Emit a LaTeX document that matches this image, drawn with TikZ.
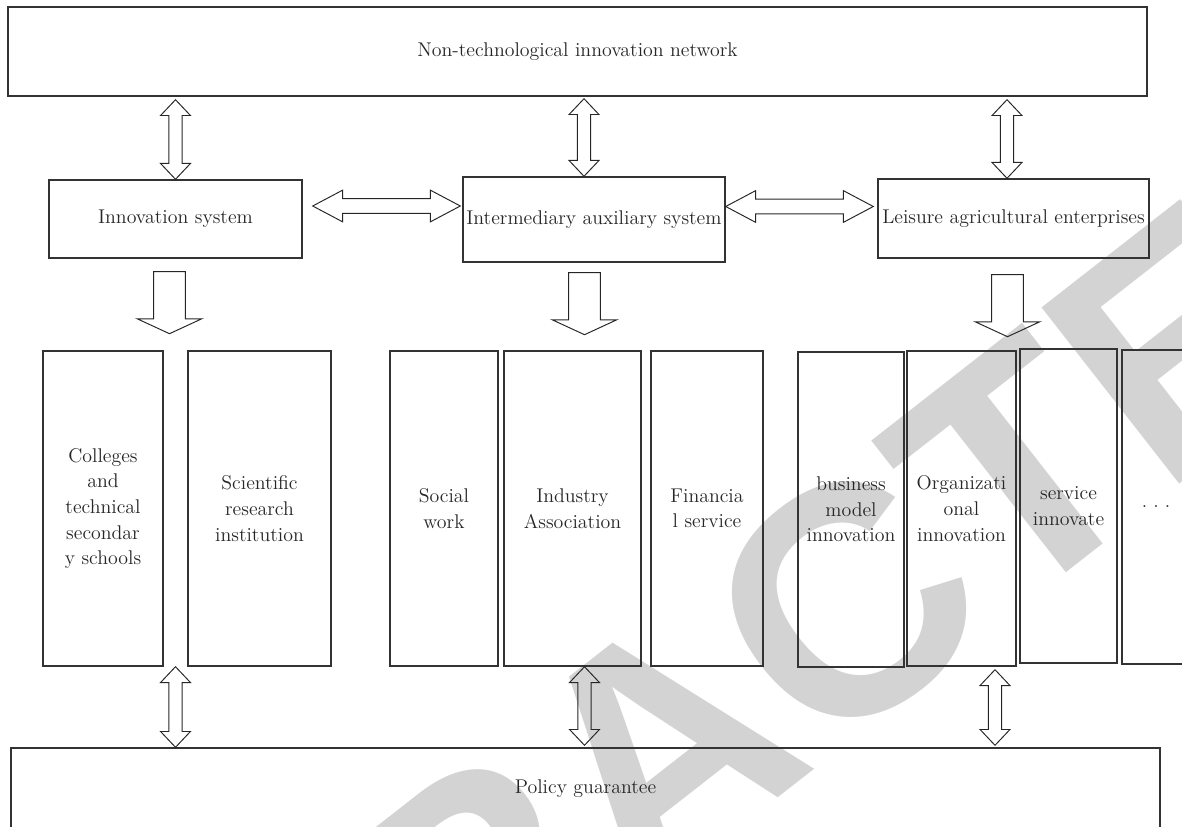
\documentclass[tikz,border=0pt]{standalone}
\usepackage{fontspec}
\usepackage{tikz}
\usetikzlibrary{calc}
\newfontfamily\stampfont{Liberation Sans}
\definecolor{stampgray}{HTML}{D3D3D3}
\definecolor{linegray}{HTML}{333333}

% vertical double block arrow: #1 upper tip, #2 lower tip
\newcommand{\dblvert}[2]{%
  \draw[blockarrow] let \p1=(#1), \p2=(#2) in
    (\x1,\y1) -- (\x1+8.5pt,\y1-9pt) -- (\x1+3.8pt,\y1-9pt) -- (\x1+3.8pt,\y2+9pt)
    -- (\x1+8.5pt,\y2+9pt) -- (\x1,\y2) -- (\x1-8.5pt,\y2+9pt) -- (\x1-3.8pt,\y2+9pt)
    -- (\x1-3.8pt,\y1-9pt) -- (\x1-8.5pt,\y1-9pt) -- cycle;}
% horizontal double block arrow: #1 left tip, #2 right tip
\newcommand{\dblhorz}[2]{%
  \draw[blockarrow] let \p1=(#1), \p2=(#2) in
    (\x1,\y1) -- (\x1+17pt,\y1+9pt) -- (\x1+17pt,\y1+4.25pt) -- (\x2-17pt,\y1+4.25pt)
    -- (\x2-17pt,\y1+9pt) -- (\x2,\y1) -- (\x2-17pt,\y1-9pt) -- (\x2-17pt,\y1-4.25pt)
    -- (\x1+17pt,\y1-4.25pt) -- (\x1+17pt,\y1-9pt) -- cycle;}
% single block arrow pointing down: #1 top of shaft, #2 tip
\newcommand{\blockdown}[2]{%
  \draw[blockarrow] let \p1=(#1), \p2=(#2) in
    (\x1-9pt,\y1) -- (\x1+9pt,\y1) -- (\x1+9pt,\y2+8.5pt) -- (\x1+18.4pt,\y2+8.5pt)
    -- (\x1,\y2) -- (\x1-18.4pt,\y2+8.5pt) -- (\x1-9pt,\y2+8.5pt) -- cycle;}

\begin{document}
\begin{tikzpicture}[x=0.02cm, y=-0.02cm,
  every node/.style={font=\fontsize{11.3}{14.6}\selectfont, align=center, text=black!85},
  box/.style 2 args={draw=linegray, line width=0.8pt, inner sep=0pt,
    minimum width=(#1)*0.02cm, minimum height=(#2)*0.02cm},
  blockarrow/.style={draw=black!85, line width=0.55pt, line join=miter}]

\useasboundingbox (0,0) rectangle (1182,827);
\clip (0,0) rectangle (1182,827);

% watermark, under everything
\node[rotate=38, text=stampgray, inner sep=0pt,
  font=\stampfont\bfseries\fontsize{185}{185}\selectfont]
  (stamp) at (660,748) {RETRACTED};

% the two bands
\node[box={1139}{89}] (net) at (577.5,51.5) {Non-technological innovation network};
\node[box={1149}{82}] (pol) at (585.5,789) {Policy guarantee};

% middle row
\node[box={253}{78}] (inn) at (175.5,219) {Innovation system};
\node[box={262}{85}] (ias) at (594,219.5) {Intermediary auxiliary system};
\node[box={271}{79}] (lae) at (1013.5,218.5) {Leisure agricultural enterprises};

% lower row of tall boxes
\foreach \id/\xl/\xr/\yt/\yb/\txt in {
    cts/43/163/351/666/{Colleges\\and\\technical\\secondar\\y schools},
    sri/188/331/351/666/{Scientific\\research\\institution},
    sw/390/498/351/666/{Social\\work},
    ia/504/641/351/666/{Industry\\Association},
    fs/651/763/351/666/{Financia\\l service},
    bmi/798/904/352/667/{business\\model\\innovation},
    oi/907/1016/351/666/{Organizati\\onal\\innovation},
    si/1020/1117/349/663/{service\\innovate},
    more/1122/1190/350/664/{.\hspace{3.5pt}.\hspace{3.5pt}.}}
  \node[box={\xr-\xl}{\yb-\yt}] (\id) at ({(\xl+\xr)/2},{(\yt+\yb)/2}) {\txt};

% links to the network band
\dblvert{$(inn.north |- net.south)+(0,3)$}{inn.north}
\dblvert{$(ias.north |- net.south)+(-10,2)$}{$(ias.north)+(-10,0)$}
\dblvert{$(lae.north |- net.south)+(-6.5,3)$}{$(lae.north)+(-6.5,0)$}

% links between the systems
\dblhorz{$(inn.east)+(10,-13)$}{$(ias.west)+(-2,-13)$}
\dblhorz{$(ias.east)+(0,-13)$}{$(lae.west)+(-4,-13)$}

% systems to their members
\blockdown{$(inn.south)+(-6,13)$}{$(inn.south)+(-6,75)$}
\blockdown{$(ias.south)+(-9.5,10)$}{$(ias.south)+(-9.5,72)$}
\blockdown{$(lae.south)+(-6,16)$}{$(lae.south)+(-6,78)$}

% links to the policy band
\coordinate (gap) at ($(cts.south east)!0.5!(sri.south west)$);
\dblvert{gap}{gap |- pol.north}
\dblvert{$(ia.south)+(12,0)$}{$(ia.south |- pol.north)+(12,-2)$}
\dblvert{$(oi.south)+(33.5,3)$}{$(oi.south |- pol.north)+(33.5,-2)$}

\end{tikzpicture}
\end{document}
